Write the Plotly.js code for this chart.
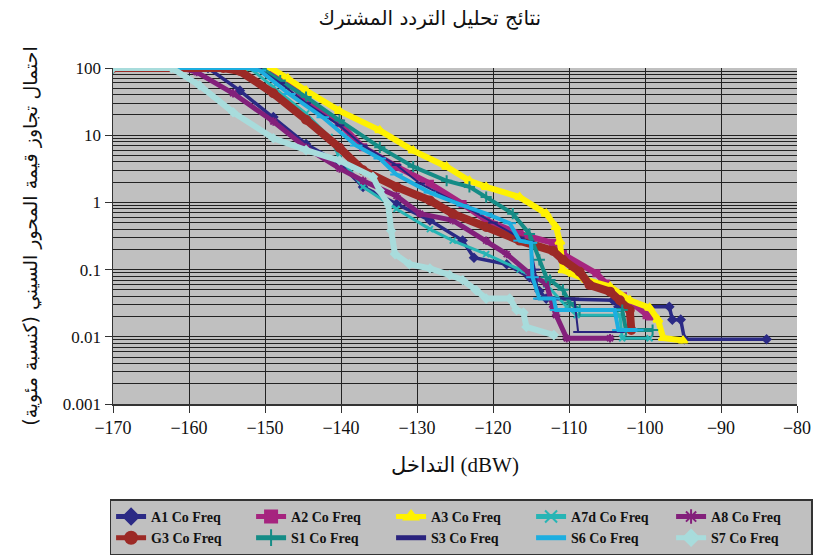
<!DOCTYPE html>
<html>
<head>
<meta charset="utf-8">
<script src="https://cdn.plot.ly/plotly-3.0.1.min.js"></script>
<style>html,body{margin:0;padding:0;background:#fff;}#chart{width:814px;height:560px;}</style>
</head>
<body>
<div id="chart"></div>
<script>
// ---- Data ----
var seriesNames = ["A1 Co Freq","A2 Co Freq","A3 Co Freq","A7d Co Freq","A8 Co Freq","G3 Co Freq","S1 Co Freq","S3 Co Freq","S6 Co Freq","S7 Co Freq"];

var a1X = [-170,-157.5,-153.3,-148.9,-144.6,-140.2,-137.1,-132.7,-128.3,-124,-122.5,-118.2,-115.2,-113.9,-113,-104.2,-103.5,-96.8,-96.4,-95.3,-94.8,-84];
var a1Y = [100,100,46,18.6,7.4,3.8,1.7,0.95,0.54,0.27,0.15,0.12,0.077,0.048,0.037,0.035,0.028,0.028,0.018,0.018,0.0092,0.0092];

var a2X = [-170,-149.5,-146.8,-144.6,-140.2,-137.1,-132.7,-128.3,-124,-120.9,-116.5,-112.1,-110.8,-106.4,-105.1,-102.9,-99.8,-99.4];
var a2Y = [100,100,62,33,15,6.6,3.4,1.9,0.95,0.54,0.34,0.25,0.17,0.088,0.062,0.04,0.021,0.02];

var a3X = [-170,-149.2,-147,-144.6,-140.2,-134.9,-130.5,-126.1,-123.1,-120.9,-116.5,-113,-111.7,-111.2,-110.8,-109.5,-107.7,-104.6,-102,-99.4,-98.3,-97.6,-95];
var a3Y = [100,100,70,46,23,11.8,5.9,3.4,2.1,1.7,1.2,0.68,0.43,0.26,0.098,0.087,0.07,0.056,0.035,0.027,0.018,0.0096,0.0088];

var a7dX = [-170,-152,-148.9,-144.6,-141.5,-140.2,-137.1,-132.7,-128.3,-125.3,-120.9,-116.5,-113,-110.3,-109,-103.3,-103,-99.4];
var a7dY = [100,100,52,21,9.4,4.7,1.7,0.8,0.4,0.27,0.17,0.1,0.06,0.028,0.021,0.021,0.0095,0.0095];

var a8X = [-170,-161,-159,-154.2,-148.9,-144.6,-140.2,-137.1,-132.7,-129.6,-125.3,-120.9,-118.2,-115.2,-113,-112.1,-111.7,-110.3,-104.6];
var a8Y = [100,100,87,42,16,6.5,3.2,2.1,1.25,0.68,0.54,0.27,0.17,0.088,0.062,0.028,0.021,0.0095,0.0095];

var g3X = [-170,-155.5,-153.3,-148.9,-144.6,-140.2,-137.1,-132.7,-128.3,-125.3,-120.9,-116.5,-112.1,-110.8,-108.6,-107.3,-104.6,-103.3,-102,-101.8];
var g3Y = [100,100,90,42,17,6.5,3.0,1.7,1.07,0.68,0.43,0.27,0.19,0.14,0.093,0.059,0.047,0.035,0.025,0.0126];

var s1X = [-170,-150.5,-148,-144.6,-140.2,-134.9,-130.5,-126.1,-123.1,-120.9,-117.4,-115.2,-113.9,-113,-112.5,-110.8,-109.9,-108.6,-103,-102.5,-99];
var s1Y = [100,100,65,37,16.6,6.6,3.4,2.1,1.7,1.2,0.68,0.34,0.14,0.077,0.07,0.05,0.032,0.025,0.025,0.0126,0.0126];

var s3X = [-170,-151,-148,-144.6,-140.2,-137.1,-132.7,-129.6,-124,-120,-116.5,-115.2,-114.5,-113.9,-109.3,-108.8,-103.3];
var s3Y = [100,100,60,30,14,7,3.6,1.9,0.9,0.5,0.3,0.26,0.1,0.037,0.037,0.0118,0.0118];

var s6X = [-170,-152.5,-150.7,-146.8,-142.4,-138,-134.9,-132.7,-128.3,-124,-120.9,-117.8,-116.5,-115,-114.8,-113.9,-112,-111.7,-104,-103.5,-101];
var s6Y = [100,100,92,41,18.5,7,4.5,2.6,1.4,0.9,0.68,0.49,0.27,0.25,0.077,0.037,0.037,0.025,0.025,0.0126,0.0126];

var s7X = [-170,-162.3,-158.6,-154.2,-148.9,-144.6,-140.2,-135.8,-134.9,-133.8,-133.4,-132.9,-131,-128.3,-125.7,-124,-122.2,-120.9,-117.8,-116.9,-116,-115.6,-112];
var s7Y = [100,100,55,22,9,6,4.2,2.4,1.5,0.95,0.38,0.17,0.12,0.104,0.083,0.07,0.049,0.037,0.037,0.025,0.023,0.014,0.0106];

var yTickVals = [0.001,0.01,0.1,1,10,100];
var yTickText = ["0.001","0.01","0.1","1","10","100"];

// ---- Styles ----
var styles = [
  {c:"#2B2A85", sym:"diamond", ms:6, lw:3.5},
  {c:"#A6247F", sym:"square", ms:6, lw:6},
  {c:"#FFF200", sym:"triangle-up", ms:8, lw:6},
  {c:"#27B5B5", sym:"x-thin-open", ms:6, lw:3},
  {c:"#83207B", sym:"asterisk-open", ms:7, lw:5},
  {c:"#9C2A26", sym:"circle", ms:8, lw:8},
  {c:"#158C86", sym:"cross-thin-open", ms:8, lw:4},
  {c:"#2A237E", sym:"line-ew-open", ms:7, lw:2},
  {c:"#1DAEE0", sym:"line-ew-open", ms:9, lw:4},
  {c:"#A8DCDC", sym:"diamond", ms:6, lw:6}
];
var xs = [a1X,a2X,a3X,a7dX,a8X,g3X,s1X,s3X,s6X,s7X];
var ys = [a1Y,a2Y,a3Y,a7dY,a8Y,g3Y,s1Y,s3Y,s6Y,s7Y];

var traces = [];
for (var i=0;i<seriesNames.length;i++){
  var s = styles[i];
  traces.push({
    type:"scatter", mode:"lines+markers", name:seriesNames[i],
    x: xs[i], y: ys[i],
    line:{color:s.c, width:s.lw},
    marker:{symbol:s.sym, size:s.ms, color:s.c, line:{color:s.c, width:2}}
  });
}

// minor log grid values
var minorVals = [];
for (var d=-3; d<2; d++){ for (var k=2;k<=9;k++){ minorVals.push(k*Math.pow(10,d)); } }

var layout = {
  width:814, height:560,
  paper_bgcolor:"#ffffff", plot_bgcolor:"#C0C0C0",
  margin:{l:113, r:17, t:68, b:156, autoexpand:false},
  font:{family:"Liberation Serif, DejaVu Serif, serif", color:"#111"},
  title:{text:"نتائج تحليل التردد المشترك", x:0.528, xref:"container", y:0.968, yanchor:"middle",
         font:{family:"DejaVu Sans, sans-serif", size:20, color:"#111"}},
  xaxis:{range:[-170,-80], dtick:10, tick0:-170, showgrid:true, gridcolor:"#222", gridwidth:1,
         zeroline:false, showline:true, linecolor:"#333", linewidth:1.5,
         ticks:"outside", ticklen:7, tickcolor:"#333",
         tickfont:{family:"Liberation Serif, serif", size:18, color:"#111"},
         title:{text:"التداخل (dBW)", standoff:20, font:{family:"Liberation Serif, DejaVu Sans, serif", size:21, color:"#111"}}},
  yaxis:{type:"log", range:[-3,2], tickmode:"array", tickvals:yTickVals, ticktext:yTickText,
         showgrid:true, gridcolor:"#222", gridwidth:1,
         zeroline:false, showline:true, linecolor:"#333", linewidth:1.5,
         ticks:"outside", ticklen:7, tickcolor:"#333",
         tickfont:{family:"Liberation Serif, serif", size:17, color:"#111"},
         minor:{tickmode:"array", tickvals:minorVals, showgrid:true, gridcolor:"#222", gridwidth:1, ticks:""},
         title:{text:"احتمال تجاوز قيمة المحور السيني (كنسبة مئوية)", standoff:20,
                font:{family:"DejaVu Sans, sans-serif", size:19, color:"#111"}}},
  showlegend:true,
  legend:{orientation:"h", x:-0.005, xanchor:"left", y:-0.284, yanchor:"top",
          bgcolor:"#C0C0C0", bordercolor:"#333", borderwidth:1.5,
          entrywidth:95, entrywidthmode:"pixels", tracegroupgap:0,
          font:{family:"Liberation Serif, serif", size:14, color:"#111", weight:"bold"},
          itemsizing:"constant"}
};

Plotly.newPlot("chart", traces, layout, {displayModeBar:false, staticPlot:true});
</script>
</body>
</html>
